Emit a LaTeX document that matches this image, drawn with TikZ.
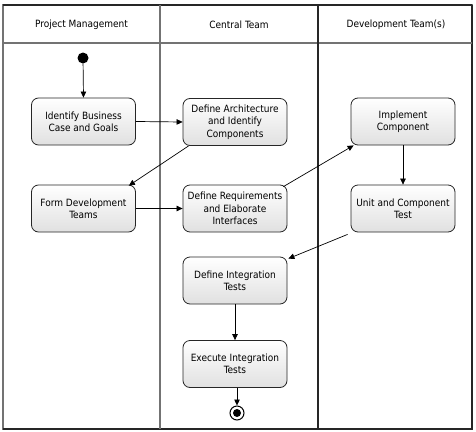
\documentclass[tikz,border=0pt]{standalone}
\usepackage{fontspec}
\setmainfont{DejaVu Sans Condensed}
\usetikzlibrary{arrows.meta}
\begin{document}
\begin{tikzpicture}[x=1pt,y=-1pt,
  activity/.style={draw=black!85, line width=0.8pt, rounded corners=7pt,
    top color=white, bottom color=black!12, minimum width=104pt, minimum height=47pt,
    align=center, inner sep=1pt,
    font=\fontsize{10}{12.3}\selectfont},
  flow/.style={draw=black, line width=0.7pt, -{Triangle[length=6pt,width=5.5pt]}},
  header/.style={font=\fontsize{10}{12.3}\selectfont},
  lane/.style={draw=black!55, line width=1.4pt},
  lanedark/.style={draw=black!85, line width=2pt}]
\useasboundingbox (0,0) rectangle (476,431);
\fill[white] (0,0) rectangle (476,431);

% swimlane frame
\draw[lane] (3,5) rectangle (472,429);
\draw[lanedark] (3,5) -- (472,5);
\draw[lanedark] (472,5) -- (472,429) -- (3,429);
\draw[lane] (3,43) -- (472,43);
\draw[lane] (160,5) -- (160,429);
\draw[lanedark] (318,5) -- (318,429);

% lane titles
\node[header] (h1) at (81.5,25) {Project Management};
\node[header] (h2) at (239,25) {Central Team};
\node[header] (h3) at (396,25) {Development Team(s)};

% start and end
\node[circle, fill=black, minimum size=11pt, inner sep=0pt] (start) at (83,58) {};
\node[circle, draw=black, line width=1pt, fill=white, minimum size=14pt, inner sep=0pt] (end) at (237,413) {};
\fill[black] (end.center) circle (4pt);

% activities
\node[activity] (biz)  at (83.5,121.5) {Identify Business\\Case and Goals};
\node[activity] (form) at (83.5,208.5) {Form Development\\Teams};
\node[activity] (arch) at (235,122)    {Define Architecture\\and Identify\\Components};
\node[activity] (req)  at (235,208.5)  {Define Requirements\\and Elaborate\\Interfaces};
\node[activity] (impl) at (403,121.5)  {Implement\\Component};
\node[activity] (unit) at (403,208.5)  {Unit and Component\\Test};
\node[activity] (dint) at (235,280.5)  {Define Integration\\Tests};
\node[activity] (exec) at (235,364)    {Execute Integration\\Tests};

% control flow
\draw[flow] (start) -- (biz.north);
\draw[flow] (biz.east) -- (arch.west);
\draw[flow] ([xshift=6pt]arch.south west) -- ([xshift=-7pt,yshift=-1pt]form.north east);
\draw[flow] (form.east) -- (req.west);
\draw[flow] ([xshift=-4pt,yshift=-2pt]req.north east) -- ([xshift=3pt]impl.south west);
\draw[flow] (impl.south) -- (unit.north);
\draw[flow] ([xshift=-3pt,yshift=-2pt]unit.south west) -- ([xshift=1pt,yshift=-2pt]dint.north east);
\draw[flow] (dint.south) -- (exec.north);
\draw[flow] ([xshift=2pt]exec.south) -- (end.north);
\end{tikzpicture}
\end{document}
